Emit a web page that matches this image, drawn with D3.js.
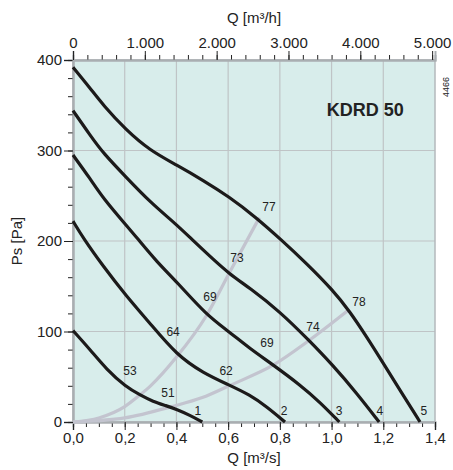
<!DOCTYPE html>
<html lang="de">
<head>
  <meta charset="utf-8">
  <title>KDRD 50</title>
  <script src="https://d3js.org/d3.v7.min.js"></script>
  <style>
    body { margin: 0; background: #fff; }
    svg text { font-family: "Liberation Sans", Arial, sans-serif; fill: #222; }
  </style>
</head>
<body>
  <div id="chart"></div>
  <script>
    "use strict"

    // Kennlinien (Q in m3/s, Ps in Pa)
    var kurve1 = [[0,101],[0.066,80],[0.13,58],[0.204,39],[0.259,30],[0.31,22.5],[0.36,18],[0.401,14],[0.452,7.5],[0.5,0]];
    var kurve2 = [[0,222],[0.04,203],[0.117,172],[0.204,140],[0.298,109],[0.401,74],[0.504,54],[0.603,41],[0.684,30],[0.749,17],[0.82,0]];
    var kurve3 = [[0,295],[0.066,269],[0.117,247],[0.204,218],[0.246,204],[0.324,177],[0.401,155],[0.517,118],[0.603,100],[0.684,81],[0.775,63],[0.878,41],[0.955,22],[1.03,0]];
    var kurve4 = [[0,344],[0.066,317],[0.117,297],[0.204,271],[0.298,243],[0.401,218],[0.459,202],[0.53,183],[0.603,164],[0.684,148],[0.8,122],[0.91,91],[1.004,63],[1.097,32],[1.184,0]];
    var kurve5 = [[0,392],[0.066,369],[0.117,350],[0.204,323],[0.298,300],[0.401,284],[0.504,267],[0.603,249],[0.704,227],[0.807,201],[0.904,175],[1.004,146],[1.071,122],[1.136,94],[1.2,65],[1.265,35],[1.342,0]];
    var kurven = [kurve1, kurve2, kurve3, kurve4, kurve5];

    // Anlagenkennlinien (grau)
    var anlage1 = [[0,0],[0.1,4.5],[0.2,17],[0.259,30],[0.3,40],[0.401,72],[0.517,118],[0.607,166],[0.721,226]];
    var anlage2 = [[0,0],[0.2,4.5],[0.382,17],[0.5,27],[0.603,40],[0.775,63],[0.91,89.5],[1.067,124]];

    // Beschriftungen (Wirkungsgrad / Drehzahlstufe) mit Ankerpunkt in Q/Ps
    var beschriftungen = [
      ["53", 0.220, 57], ["51", 0.367, 32], ["1", 0.483, 12],
      ["64", 0.387, 100], ["62", 0.592, 57],
      ["69", 0.530, 138], ["69", 0.750, 87],
      ["73", 0.634, 181], ["74", 0.928, 105],
      ["77", 0.758, 238], ["78", 1.106, 133],
      ["2", 0.816, 12], ["3", 1.029, 12], ["4", 1.187, 12], ["5", 1.357, 12]
    ];

    var xTicks = [0, 0.2, 0.4, 0.6, 0.8, 1.0, 1.2, 1.4];
    var xTickLabels = ["0,0", "0,2", "0,4", "0,6", "0,8", "1,0", "1,2", "1,4"];
    var yTicks = [0, 100, 200, 300, 400];
    var topTicks = [0, 1000, 2000, 3000, 4000, 5000];
    var topTickLabels = ["0", "1.000", "2.000", "3.000", "4.000", "5.000"];

    var larguraSVG = 453, alturaSVG = 470;
    var margin = {top: 60, right: 18, bottom: 48, left: 73};
    var w = larguraSVG - margin.left - margin.right,
        h = alturaSVG - margin.top - margin.bottom;

    var x = d3.scaleLinear().domain([0, 1.4]).range([0, w]);
    var xh = d3.scaleLinear().domain([0, 1.4 * 3600]).range([0, w]);
    var y = d3.scaleLinear().domain([0, 400]).range([h, 0]);

    var svg = d3.select('#chart').append('svg')
        .attr('width', larguraSVG)
        .attr('height', alturaSVG);
    var g = svg.append('g')
        .attr('transform', 'translate(' + margin.left + ',' + margin.top + ')');

    // Hintergrund
    g.append('rect').attr('width', w).attr('height', h).attr('fill', '#d8edeb');

    // Gitter
    g.selectAll('.gx').data(xTicks.slice(1, -1)).enter().append('line')
      .attr('x1', d => x(d)).attr('x2', d => x(d))
      .attr('y1', 0).attr('y2', h)
      .attr('stroke', '#bfc4c6').attr('stroke-width', 1.2);
    g.selectAll('.gy').data(yTicks.slice(1, -1)).enter().append('line')
      .attr('x1', 0).attr('x2', w)
      .attr('y1', d => y(d)).attr('y2', d => y(d))
      .attr('stroke', '#bfc4c6').attr('stroke-width', 1.2);

    // Rahmen
    g.append('rect').attr('width', w).attr('height', h)
      .attr('fill', 'none').attr('stroke', '#b4b9bc').attr('stroke-width', 1.5);

    // Achsen
    function styleAxis(sel) {
      sel.select('.domain').attr('stroke', '#a9aeb1').attr('stroke-width', 2);
      sel.selectAll('.tick line').attr('stroke', '#222');
      sel.selectAll('.tick text').style('font-size', '15px').attr('fill', '#222');
    }

    var minorX = d3.range(0, 1.4001, 0.05);
    var minorY = d3.range(0, 400.1, 20);
    var minorTop = d3.range(0, 5001, 200);

    // kleine Striche
    g.append('g').attr('transform', 'translate(0,' + h + ')')
      .call(d3.axisBottom(x).tickValues(minorX).tickSize(5).tickFormat(''))
      .call(styleAxis);
    g.append('g')
      .call(d3.axisLeft(y).tickValues(minorY).tickSize(5).tickFormat(''))
      .call(styleAxis);
    g.append('g')
      .call(d3.axisTop(xh).tickValues(minorTop).tickSize(5).tickFormat(''))
      .call(styleAxis);

    // grosse Striche mit Zahlen
    g.append('g').attr('transform', 'translate(0,' + h + ')')
      .call(d3.axisBottom(x).tickValues(xTicks).tickSize(8).tickPadding(2)
        .tickFormat((d, i) => xTickLabels[i]))
      .call(styleAxis);
    g.append('g')
      .call(d3.axisLeft(y).tickValues(yTicks).tickSize(9).tickPadding(2))
      .call(styleAxis);
    g.append('g')
      .call(d3.axisTop(xh).tickValues(topTicks).tickSize(9).tickPadding(3)
        .tickFormat((d, i) => topTickLabels[i]))
      .call(styleAxis);

    var linie = d3.line()
      .x(d => x(d[0]))
      .y(d => y(d[1]))
      .curve(d3.curveBasis);

    var anlageLinie = d3.line()
      .x(d => x(d[0]))
      .y(d => y(d[1]))
      .curve(d3.curveMonotoneX);

    // Anlagenkennlinien
    g.selectAll('.anlage').data([anlage1, anlage2]).enter().append('path')
      .attr('d', anlageLinie)
      .attr('fill', 'none')
      .attr('stroke', '#c3c4cf')
      .attr('stroke-width', 3.2);

    // Ventilatorkennlinien
    g.selectAll('.kurve').data(kurven).enter().append('path')
      .attr('d', linie)
      .attr('fill', 'none')
      .attr('stroke', '#1c1a1a')
      .attr('stroke-width', 3.2);

    g.selectAll('.lbl').data(beschriftungen).enter().append('text')
      .attr('x', d => x(d[1]))
      .attr('y', d => y(d[2]))
      .attr('text-anchor', 'middle')
      .attr('dy', '0.35em')
      .style('font-size', '12px')
      .text(d => d[0]);

    g.append('text')
      .attr('x', x(1.13)).attr('y', y(345))
      .attr('text-anchor', 'middle').attr('dy', '0.35em')
      .style('font-size', '18px').style('font-weight', 'bold')
      .attr('fill', '#1a1a1a')
      .text('KDRD 50');

    // Achsentitel
    svg.append('text')
      .attr('x', margin.left + w / 2).attr('y', 18)
      .attr('text-anchor', 'middle').attr('dy', '0.35em')
      .style('font-size', '15px')
      .text('Q [m³/h]');
    svg.append('text')
      .attr('x', margin.left + w / 2).attr('y', 458)
      .attr('text-anchor', 'middle').attr('dy', '0.35em')
      .style('font-size', '15px')
      .text('Q [m³/s]');
    svg.append('text')
      .attr('transform', 'translate(17,' + (margin.top + h / 2) + ') rotate(-90)')
      .attr('text-anchor', 'middle').attr('dy', '0.35em')
      .style('font-size', '15px')
      .text('Ps [Pa]');
    svg.append('text')
      .attr('transform', 'translate(446,87) rotate(-90)')
      .attr('text-anchor', 'middle').attr('dy', '0.35em')
      .style('font-size', '9px')
      .text('4466');
  </script>
</body>
</html>
